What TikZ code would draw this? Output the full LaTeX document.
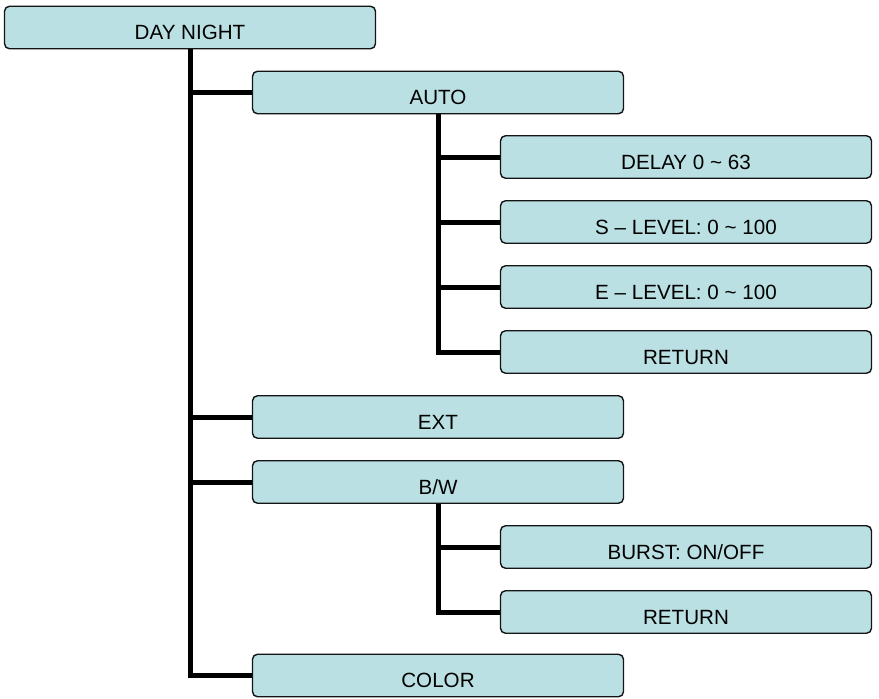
\documentclass[tikz,border=0pt]{standalone}
\usepackage{fontspec}
\setmainfont{Liberation Sans}
\definecolor{boxfill}{RGB}{186,224,227}
\definecolor{boxline}{RGB}{20,20,20}
\begin{document}
\begin{tikzpicture}[x=1pt,y=-1pt,
  menubox/.style={draw=boxline, line width=1.4pt, rounded corners=5pt, fill=boxfill,
    minimum width=371pt, inner xsep=0pt, inner ysep=0pt, text height=33.5pt, text depth=9pt,
    font=\fontsize{20.6}{24}\selectfont},
  trunk/.style={draw=black, line width=5pt}]
\useasboundingbox (0,0) rectangle (879,699);
\node[menubox] (dn) at (190,27.5) {DAY NIGHT};
\node[menubox] (auto) at (438,92.5) {AUTO};
\node[menubox] (delay) at (686,157) {DELAY 0 \textasciitilde{} 63};
\node[menubox] (slev) at (686,222) {S – LEVEL: 0 \textasciitilde{} 100};
\node[menubox] (elev) at (686,287) {E – LEVEL: 0 \textasciitilde{} 100};
\node[menubox] (ret1) at (686,352) {RETURN};
\node[menubox] (ext) at (438,417) {EXT};
\node[menubox] (bw) at (438,482) {B/W};
\node[menubox] (burst) at (686,547) {BURST: ON/OFF};
\node[menubox] (ret2) at (686,612) {RETURN};
\node[menubox] (color) at (438,675.5) {COLOR};
\draw[trunk] (dn.south) |- (color.west);
\draw[trunk] (dn.south |- auto.west) -- (auto.west);
\draw[trunk] (dn.south |- ext.west) -- (ext.west);
\draw[trunk] (dn.south |- bw.west) -- (bw.west);
\draw[trunk] (auto.south) |- (ret1.west);
\draw[trunk] (auto.south |- delay.west) -- (delay.west);
\draw[trunk] (auto.south |- slev.west) -- (slev.west);
\draw[trunk] (auto.south |- elev.west) -- (elev.west);
\draw[trunk] (bw.south) |- (ret2.west);
\draw[trunk] (bw.south |- burst.west) -- (burst.west);
\end{tikzpicture}
\end{document}
